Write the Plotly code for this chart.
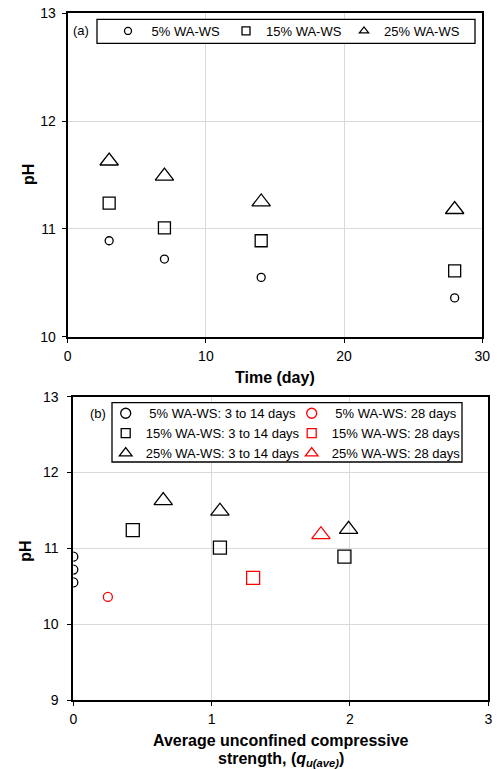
import plotly.graph_objects as go

W, H = 497, 769

# ---- data ----
days = [3, 7, 14, 28]
ph_5 = [10.89, 10.72, 10.55, 10.36]
ph_15 = [11.24, 11.01, 10.89, 10.61]
ph_25 = [11.63, 11.49, 11.25, 11.18]

# average unconfined compressive strength for the 3-14 day specimens and 28 day specimens
qu_5_early = [0.0, 0.0, 0.0]
ph_5_early = [10.89, 10.72, 10.55]
qu_15_early = [0.43, 1.06, 1.96]
ph_15_early = [11.24, 11.01, 10.89]
qu_25_early = [0.65, 1.06, 1.99]
ph_25_early = [11.63, 11.49, 11.25]

qu_5_28 = [0.25]
ph_5_28 = [10.36]
qu_15_28 = [1.30]
ph_15_28 = [10.61]
qu_25_28 = [1.79]
ph_25_28 = [11.18]


def px(x):
    return x / W


def py(y):
    return 1 - y / H


FONT = "Liberation Sans, Arial, sans-serif"
RED = "#ff0000"

fig = go.Figure()


def add(x, y, symbol, size, color, xa, ya, name=None, legend=None, show=False):
    fig.add_trace(go.Scatter(
        x=x, y=y, mode="markers", name=name, showlegend=show,
        legend=legend, xaxis=xa, yaxis=ya,
        marker=dict(symbol=symbol, size=size, color=color,
                    line=dict(width=1.3, color=color)),
        hoverinfo="x+y",
    ))


# panel (a)
add(days, ph_5, "circle-open", 8, "black", "x", "y")
add(days, ph_15, "square-open", 12, "black", "x", "y")
add(days, ph_25, "triangle-up-open", 16, "black", "x", "y")

# panel (b)
add(qu_5_early, ph_5_early, "circle-open", 9, "black", "x2", "y2")
add(qu_15_early, ph_15_early, "square-open", 13, "black", "x2", "y2")
add(qu_25_early, ph_25_early, "triangle-up-open", 16, "black", "x2", "y2")
add(qu_5_28, ph_5_28, "circle-open", 9, RED, "x2", "y2")
add(qu_15_28, ph_15_28, "square-open", 13, RED, "x2", "y2")
add(qu_25_28, ph_25_28, "triangle-up-open", 16, RED, "x2", "y2")

# legend entries (legend-only traces with legend-sized symbols)
leg_a = [("circle-open", 7, " 5% WA-WS"), ("square-open", 8, "15% WA-WS"),
         ("triangle-up-open", 8, "25% WA-WS")]
for sym, sz, nm in leg_a:
    add([None], [None], sym, sz, "black", "x", "y", name=nm, legend="legend", show=True)

leg_b1 = [("circle-open", 10, " 5% WA-WS: 3 to 14 days"),
          ("square-open", 9, "15% WA-WS: 3 to 14 days"),
          ("triangle-up-open", 11, "25% WA-WS: 3 to 14 days")]
for sym, sz, nm in leg_b1:
    add([None], [None], sym, sz, "black", "x2", "y2", name=nm, legend="legend2", show=True)

leg_b2 = [("circle-open", 10, " 5% WA-WS: 28 days"),
          ("square-open", 9, "15% WA-WS: 28 days"),
          ("triangle-up-open", 11, "25% WA-WS: 28 days")]
for sym, sz, nm in leg_b2:
    add([None], [None], sym, sz, RED, "x2", "y2", name=nm, legend="legend3", show=True)

axis_common = dict(
    showline=True, linecolor="black", linewidth=2, mirror=True,
    showgrid=True, gridcolor="#d9d9d9", gridwidth=1, zeroline=False,
    ticks="outside", ticklen=4, tickcolor="black", tickwidth=1,
    tickfont=dict(family=FONT, size=14, color="black"),
    automargin=False,
)

leg_font = dict(family=FONT, size=13, color="black")

fig.update_layout(
    template="none",
    width=W, height=H,
    margin=dict(l=0, r=0, t=0, b=0, autoexpand=False),
    paper_bgcolor="white", plot_bgcolor="white",
    xaxis=dict(domain=[px(67.7), px(482.3)], range=[0, 30], dtick=10,
               anchor="y", ticklabelstandoff=1, **axis_common),
    yaxis=dict(domain=[py(336.7), py(13.3)], range=[10, 13], dtick=1,
               anchor="x", ticklabelstandoff=3, **axis_common),
    xaxis2=dict(domain=[px(73.3), px(488.3)], range=[0, 3], dtick=1,
                anchor="y2", ticklabelstandoff=1, **axis_common),
    yaxis2=dict(domain=[py(700), py(396.7)], range=[9, 13], dtick=1,
                anchor="x2", ticklabelstandoff=6, **axis_common),
    legend=dict(orientation="h", x=px(108), y=py(16), xanchor="left", yanchor="top",
                bgcolor="rgba(0,0,0,0)", borderwidth=0, font=leg_font,
                itemwidth=30, entrywidth=73, entrywidthmode="pixels",
                itemclick=False, itemdoubleclick=False),
    legend2=dict(x=px(105.7), y=py(398.3), xanchor="left", yanchor="top",
                 bgcolor="rgba(0,0,0,0)", borderwidth=0, font=leg_font,
                 itemwidth=30, tracegroupgap=0,
                 itemclick=False, itemdoubleclick=False),
    legend3=dict(x=px(291.7), y=py(398.3), xanchor="left", yanchor="top",
                 bgcolor="rgba(0,0,0,0)", borderwidth=0, font=leg_font,
                 itemwidth=30, tracegroupgap=0,
                 itemclick=False, itemdoubleclick=False),
    shapes=[
        dict(type="rect", xref="paper", yref="paper",
             x0=px(97), x1=px(475), y0=py(43.3), y1=py(19.3),
             line=dict(color="black", width=1.3), fillcolor="white", layer="above"),
        dict(type="rect", xref="paper", yref="paper",
             x0=px(112), x1=px(462), y0=py(462), y1=py(402.7),
             line=dict(color="black", width=1.3), fillcolor="white", layer="above"),
    ],
)

title_font = dict(family=FONT, size=16, color="black", weight="bold")
annotations = [
    dict(text="(a)", x=px(81), y=py(31), font=leg_font),
    dict(text="(b)", x=px(97.5), y=py(413.3), font=leg_font),
    dict(text="pH", x=px(28), y=py(175), textangle=-90, font=title_font),
    dict(text="pH", x=px(26), y=py(551.7), textangle=-90, font=title_font),
    dict(text="Time (day)", x=px(275), y=py(377), font=title_font),
    dict(text="Average unconfined compressive", x=px(281), y=py(740.7), font=title_font),
    dict(text="strength, (<i>q</i><sub><i>u(ave)</i></sub>)", x=px(281), y=py(759.3),
         font=title_font),
]
for a in annotations:
    fig.add_annotation(xref="paper", yref="paper", showarrow=False,
                       xanchor="center", yanchor="middle", **a)

fig.write_html("out.html")
